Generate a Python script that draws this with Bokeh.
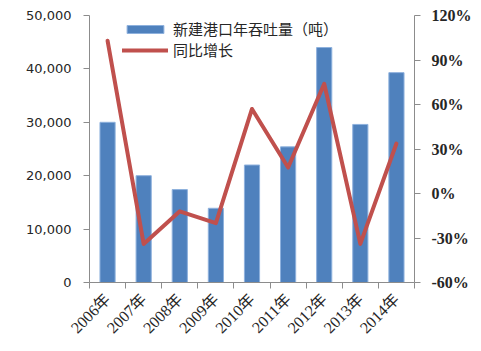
import math
from bokeh.plotting import figure
from bokeh.models import (Range1d, LinearAxis, FixedTicker, NumeralTickFormatter,
                          PrintfTickFormatter, Legend, LegendItem, ColumnDataSource)
from bokeh.embed import file_html
from bokeh.resources import INLINE

years = ["2006年", "2007年", "2008年", "2009年", "2010年", "2011年", "2012年", "2013年", "2014年"]
throughput = [30000, 20000, 17400, 13900, 22000, 25400, 44000, 29600, 39300]
growth = [103, -34, -12, -20, 57, 17.5, 74, -34, 33.7]
left_ticks = [0, 10000, 20000, 30000, 40000, 50000]
right_ticks = [-60, -30, 0, 30, 60, 90, 120]

xs = [i + 0.5 for i in range(len(years))]
src = ColumnDataSource(dict(x=xs, t=throughput, g=growth))

p = figure(width=481, height=351, x_range=Range1d(0, len(years)), y_range=Range1d(0, 50000),
           output_backend="svg", toolbar_location=None,
           min_border_left=89, min_border_right=67, min_border_top=15, min_border_bottom=69,
           x_axis_type=None, y_axis_type=None)
p.extra_y_ranges = {"pct": Range1d(-60, 120)}
p.outline_line_color = None
p.xgrid.visible = False
p.ygrid.visible = False
p.background_fill_color = None
p.border_fill_color = "white"

axis_color = "#8c8c8c"
label_color = "#262626"

xaxis = LinearAxis(ticker=FixedTicker(ticks=xs, minor_ticks=list(range(len(years) + 1))))
xaxis.major_label_overrides = {x: y for x, y in zip(xs, years)}
xaxis.major_tick_out = 0
xaxis.major_tick_in = 0
xaxis.minor_tick_out = 6
xaxis.minor_tick_in = 0
xaxis.minor_tick_line_color = axis_color
xaxis.axis_line_color = axis_color
xaxis.major_label_orientation = math.pi / 4
xaxis.major_label_text_font = "'Liberation Serif', 'Noto Sans CJK SC'"
xaxis.major_label_text_font_size = "16px"
xaxis.major_label_text_color = label_color
xaxis.major_label_standoff = 8
p.add_layout(xaxis, "below")

laxis = LinearAxis(ticker=FixedTicker(ticks=left_ticks, minor_ticks=[]),
                   formatter=NumeralTickFormatter(format="0,0"))
laxis.major_tick_out = 6
laxis.major_tick_in = 0
laxis.minor_tick_out = 0
laxis.major_tick_line_color = axis_color
laxis.axis_line_color = axis_color
laxis.major_label_text_font = "DejaVu Sans"
laxis.major_label_text_font_size = "13px"
laxis.major_label_text_color = label_color
laxis.major_label_standoff = 12
p.add_layout(laxis, "left")

raxis = LinearAxis(y_range_name="pct", ticker=FixedTicker(ticks=right_ticks, minor_ticks=[]),
                   formatter=PrintfTickFormatter(format="%d%%"))
raxis.major_tick_out = 6
raxis.major_tick_in = 0
raxis.minor_tick_out = 0
raxis.major_tick_line_color = axis_color
raxis.axis_line_color = axis_color
raxis.major_label_text_font = "Liberation Serif"
raxis.major_label_text_font_size = "16px"
raxis.major_label_text_font_style = "bold"
raxis.major_label_text_color = label_color
raxis.major_label_standoff = 11
p.add_layout(raxis, "right")

bars = p.vbar(x="x", top="t", width=0.42, bottom=0, source=src,
              fill_color="#4F81BD", line_color="#8EB1DD", line_width=1)
line = p.line(x="x", y="g", source=src, y_range_name="pct",
              line_color="#C0504D", line_width=4, line_join="round", line_cap="round")

legend = Legend(items=[LegendItem(label="新建港口年吞吐量（吨）", renderers=[bars]),
                       LegendItem(label="同比增长", renderers=[line])],
                location=(33, 222), padding=0, margin=0, spacing=0,
                glyph_width=46, glyph_height=10, label_height=20, label_standoff=5,
                label_text_font="'Noto Sans CJK SC'", label_text_font_size="15px",
                label_text_color=label_color,
                border_line_color=None, background_fill_alpha=0)
p.add_layout(legend, "center")

with open("out.html", "w") as f:
    f.write(file_html(p, INLINE))
